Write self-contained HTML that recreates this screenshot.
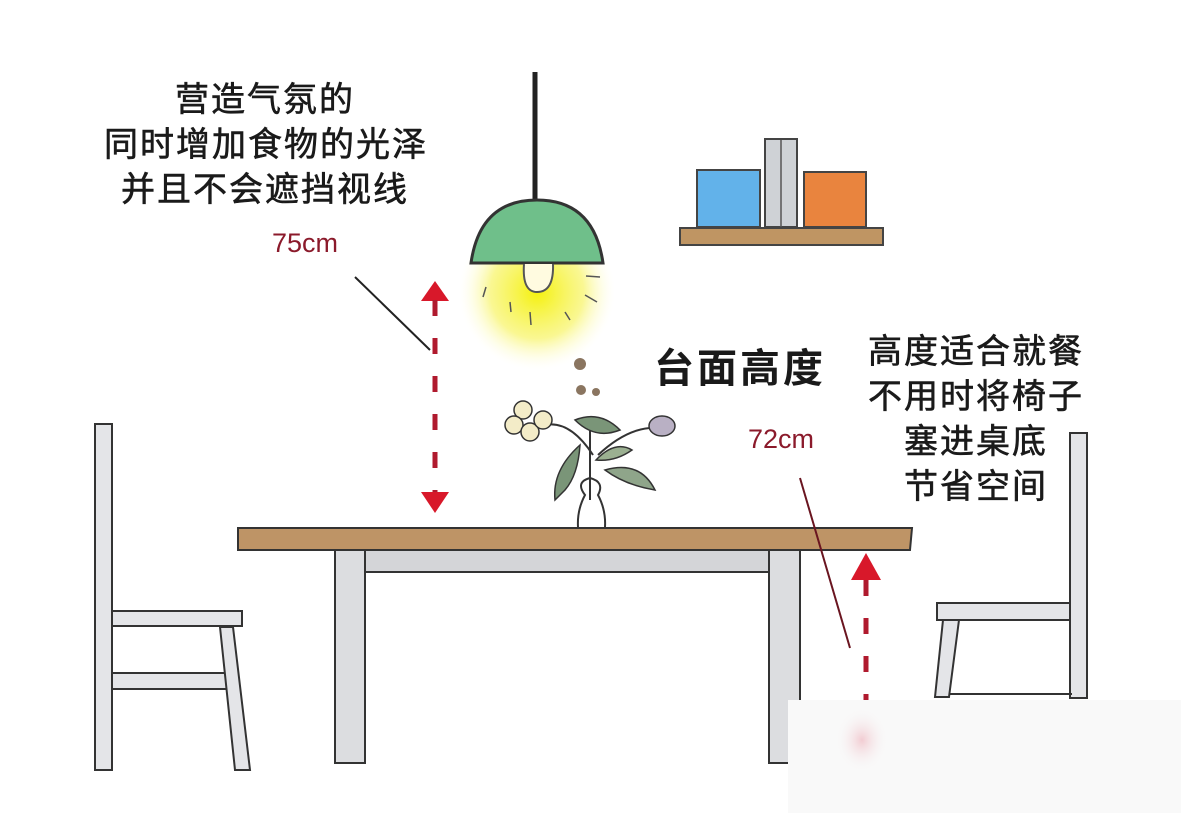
<!DOCTYPE html>
<html><head><meta charset="utf-8"><style>
html,body{margin:0;padding:0;background:#fff}
svg{display:block}
text{font-family:"Liberation Sans","Noto Sans CJK SC",sans-serif}
</style></head><body>
<svg width="1181" height="813" viewBox="0 0 1181 813" xmlns="http://www.w3.org/2000/svg">
<defs>
<radialGradient id="glow" cx="0.5" cy="0.5" r="0.5">
<stop offset="0" stop-color="#f4f000" stop-opacity="0.95"/>
<stop offset="0.6" stop-color="#f6f24a" stop-opacity="0.6"/>
<stop offset="1" stop-color="#fffde0" stop-opacity="0"/>
</radialGradient>
<radialGradient id="pink" cx="0.5" cy="0.5" r="0.5">
<stop offset="0" stop-color="#f2ccd2"/><stop offset="1" stop-color="#f8f8f8" stop-opacity="0"/>
</radialGradient>
</defs>
<rect width="1181" height="813" fill="#fff"/>

<!-- texts -->
<g fill="#1a1a1a" font-size="34" text-anchor="middle" letter-spacing="2" stroke="#1a1a1a" stroke-width="0.6">
<text x="265" y="111">营造气氛的</text>
<text x="266" y="156">同时增加食物的光泽</text>
<text x="265" y="201">并且不会遮挡视线</text>
<text x="976" y="363">高度适合就餐</text>
<text x="976" y="408">不用时将椅子</text>
<text x="976" y="453">塞进桌底</text>
<text x="976" y="498">节省空间</text>
</g>
<text x="740" y="382" font-size="40" font-weight="bold" text-anchor="middle" fill="#1a1a1a" letter-spacing="3">台面高度</text>
<text x="272" y="252" font-size="27" fill="#8b1a2b">75cm</text>
<text x="748" y="448" font-size="27" fill="#8b1a2b">72cm</text>

<!-- lamp -->
<circle cx="537" cy="292" r="78" fill="url(#glow)"/>
<line x1="535" y1="72" x2="535" y2="202" stroke="#222" stroke-width="5"/>
<path d="M471 263 Q480 200 537 200 Q594 200 603 263 Z" fill="#6fbf8a" stroke="#333" stroke-width="3"/>
<path d="M524 264 Q522 292 537 292 Q554 292 553 264" fill="#fffbe0" stroke="#555" stroke-width="2"/>
<g stroke="#555" stroke-width="1.5">
<line x1="486" y1="287" x2="483" y2="297"/><line x1="510" y1="302" x2="511" y2="312"/>
<line x1="530" y1="312" x2="531" y2="325"/><line x1="565" y1="312" x2="570" y2="320"/>
<line x1="585" y1="295" x2="597" y2="302"/><line x1="586" y1="276" x2="600" y2="277"/>
</g>

<!-- shelf -->
<rect x="697" y="170" width="63" height="57" fill="#62b2ea" stroke="#444" stroke-width="2"/>
<rect x="765" y="139" width="32" height="88" fill="#cfd2d6" stroke="#444" stroke-width="2"/>
<line x1="781" y1="140" x2="781" y2="227" stroke="#555" stroke-width="1.5"/>
<rect x="804" y="172" width="62" height="55" fill="#e9843e" stroke="#444" stroke-width="2"/>
<rect x="680" y="228" width="203" height="17" fill="#bf9563" stroke="#444" stroke-width="2"/>

<!-- arrows left -->
<line x1="355" y1="277" x2="430" y2="350" stroke="#222" stroke-width="2"/>
<path d="M435 281 L449 301 L421 301 Z" fill="#d8182a"/>
<path d="M435 513 L449 492 L421 492 Z" fill="#d8182a"/>
<line x1="435" y1="300" x2="435" y2="492" stroke="#b01a2e" stroke-width="5" stroke-dasharray="16,22"/>

<!-- plant -->
<g stroke="#333" stroke-width="2" fill="none">
<path d="M590 430 L590 500 M593 455 Q570 420 545 425 M598 455 Q630 425 660 428"/>
<path d="M578 527 Q577 510 585 495 Q575 482 590 478 Q605 482 598 495 Q606 510 605 527"/>
</g>
<path d="M555 500 Q552 470 580 445 Q578 475 565 490 Z" fill="#7a9578" stroke="#333" stroke-width="1.5"/>
<path d="M605 470 Q640 460 655 490 Q625 485 605 470 Z" fill="#8fa58a" stroke="#333" stroke-width="1.5"/>
<path d="M575 420 Q600 410 620 430 Q595 440 575 420 Z" fill="#7a9578" stroke="#333" stroke-width="1.5"/>
<path d="M596 460 Q615 440 632 450 Q615 462 596 460 Z" fill="#9bb091" stroke="#333" stroke-width="1.5"/>
<circle cx="580" cy="364" r="6" fill="#8a7560"/><circle cx="581" cy="390" r="5" fill="#8a7560"/><circle cx="596" cy="392" r="4" fill="#8a7560"/>
<g fill="#f3ecc8" stroke="#333" stroke-width="1.5">
<circle cx="523" cy="410" r="9"/><circle cx="514" cy="425" r="9"/><circle cx="530" cy="432" r="9"/><circle cx="543" cy="420" r="9"/>
</g>
<ellipse cx="662" cy="426" rx="13" ry="10" fill="#b9b0c4" stroke="#333" stroke-width="1.5"/>

<!-- table -->
<rect x="335" y="550" width="30" height="213" fill="#dcdde0" stroke="#333" stroke-width="2"/>
<rect x="365" y="550" width="404" height="22" fill="#d4d5d8" stroke="#333" stroke-width="2"/>
<rect x="769" y="550" width="31" height="213" fill="#dcdde0" stroke="#333" stroke-width="2"/>
<path d="M238 528 L912 528 L910 550 L238 550 Z" fill="#be9466" stroke="#333" stroke-width="2"/>

<!-- right arrow / line -->
<line x1="800" y1="478" x2="850" y2="648" stroke="#6a1520" stroke-width="2"/>
<path d="M866 553 L881 580 L851 580 Z" fill="#d8182a"/>
<line x1="866" y1="580" x2="866" y2="700" stroke="#b01a2e" stroke-width="5" stroke-dasharray="16,22"/>

<!-- left chair -->
<rect x="95" y="424" width="17" height="346" fill="#e4e5e8" stroke="#333" stroke-width="2"/>
<rect x="112" y="611" width="130" height="15" fill="#e4e5e8" stroke="#333" stroke-width="2"/>
<rect x="112" y="673" width="118" height="16" fill="#e4e5e8" stroke="#333" stroke-width="2"/>
<path d="M220 627 L233 627 L250 770 L235 770 Z" fill="#e4e5e8" stroke="#333" stroke-width="2"/>

<!-- right chair -->
<rect x="1070" y="433" width="17" height="265" fill="#e4e5e8" stroke="#333" stroke-width="2"/>
<rect x="937" y="603" width="133" height="17" fill="#e4e5e8" stroke="#333" stroke-width="2"/>
<path d="M943 620 L959 620 L949 697 L935 697 Z" fill="#e4e5e8" stroke="#333" stroke-width="2"/>
<line x1="949" y1="694" x2="1072" y2="694" stroke="#333" stroke-width="2"/>

<!-- blurred watermark area -->
<rect x="788" y="700" width="393" height="113" fill="#f9f9f9"/>
<ellipse cx="862" cy="740" rx="26" ry="32" fill="url(#pink)"/>
</svg>
</body></html>
